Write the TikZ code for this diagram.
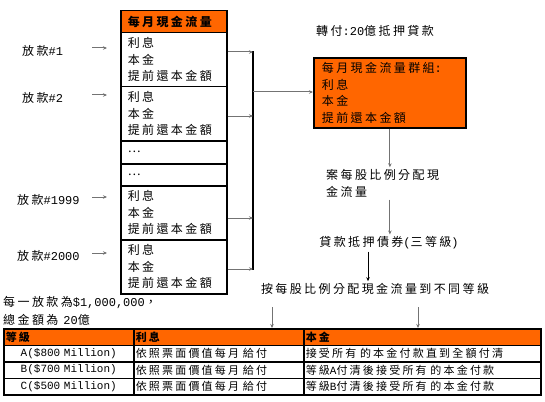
\documentclass[tikz,border=0pt]{standalone}
\usepackage{fontspec}
\setmainfont{Noto Sans CJK TC}[LetterSpace=20]
\newfontfamily\latnfont{Liberation Mono}
\newcommand{\ltn}[1]{{\latnfont #1}}
\usetikzlibrary{calc,positioning,arrows.meta}
\definecolor{cforange}{HTML}{FF6600}
\tikzstyle{stack}     = [draw=black, line width=1.5pt, anchor=north west, minimum width=106pt, text width=92pt, inner xsep=7pt, inner ysep=1pt, align=left, font=\fontsize{12}{16.5}\selectfont]
\tikzstyle{stackhead} = [stack, fill=cforange, minimum height=22pt, font=\fontsize{12}{16.5}\selectfont\bfseries]
\tikzstyle{loan}      = [anchor=west, inner sep=0pt, font=\fontsize{12}{16.5}\selectfont]
\tikzstyle{note}      = [inner sep=2pt, align=left, font=\fontsize{12}{17}\selectfont]
\tikzstyle{cell}      = [draw=black, line width=1.5pt, anchor=north west, minimum height=16.5pt, inner xsep=2pt, inner ysep=0pt, align=left, font=\fontsize{11}{13}\selectfont]
\tikzstyle{hcell}     = [cell, fill=cforange, font=\fontsize{11}{13}\selectfont\bfseries]
\tikzstyle{garr}      = [draw=black!55, line width=1pt, -{Stealth[length=4pt,width=3.5pt]}]
\tikzstyle{karr}      = [draw=black, line width=1pt, -{Stealth[length=4pt,width=3.5pt]}]
\tikzstyle{bus}       = [draw=black, line width=1.6pt]

\begin{document}
\begin{tikzpicture}[x=1pt,y=-1pt]
    \useasboundingbox (0,0) rectangle (545,401);

    % monthly cash flow of each loan
    \node[stackhead] (head) at (120,10) {每月現金流量};
    \node[stack, minimum height=54pt] (b1) at (120,32) {利息\\本金\\提前還本金額};
    \node[stack, minimum height=54pt] (b2) at (120,86) {利息\\本金\\提前還本金額};
    \node[stack, minimum height=23pt] (d1) at (120,140) {…};
    \node[stack, minimum height=22pt] (d2) at (120,163) {…};
    \node[stack, minimum height=54pt] (b3) at (120,185) {利息\\本金\\提前還本金額};
    \node[stack, minimum height=54pt] (b4) at (120,239) {利息\\本金\\提前還本金額};

    % loans
    \node[loan] (l1) at (22,51) {放款\ltn{\#1}};
    \node[loan] (l2) at (22,98) {放款\ltn{\#2}};
    \node[loan] (l3) at (17,200) {放款\ltn{\#1999}};
    \node[loan] (l4) at (17,256) {放款\ltn{\#2000}};
    \coordinate (s1) at (92,48);
    \coordinate (s2) at (92,95);
    \coordinate (s3) at (92,197);
    \coordinate (s4) at (92,253);
    \draw[garr] (s1) -- ++(15,0);
    \draw[garr] (s2) -- ++(15,0);
    \draw[garr] (s3) -- ++(15,0);
    \draw[garr] (s4) -- ++(15,0);

    % pooling
    \coordinate (p1) at (253,52);
    \coordinate (p2) at (253,116);
    \coordinate (p3) at (253,218);
    \coordinate (p4) at (253,269);
    \coordinate (pm) at (253,92);
    \draw[bus] ($(p1)+(0,-0.8)$) -- ($(p4)+(0,0.8)$);
    \draw[garr] (b1.east |- p1) -- (p1);
    \draw[garr] (b2.east |- p2) -- (p2);
    \draw[garr] (b3.east |- p3) -- (p3);
    \draw[garr] (b4.east |- p4) -- (p4);

    \node[note, anchor=west] (pass) at (314,31) {轉付\ltn{:20}億抵押貸款};
    \node[draw=black, line width=1.8pt, fill=cforange, anchor=north west, minimum width=152pt, minimum height=70pt,
          text width=136pt, inner xsep=8pt, inner ysep=1pt, align=left, font=\fontsize{12}{16.7}\selectfont]
          (grp) at (313,57) {每月現金流量群組\ltn{:}\\利息\\本金\\提前還本金額};
    \draw[garr] (pm) -- (grp.west |- pm);

    % allocation
    \node[note, anchor=west] (alloc) at (324,183.5) {案每股比例分配現\\金流量};
    \node[note] (bond) at (389,243) {貸款抵押債券\ltn{(}三等級\ltn{)}};
    \node[note] (dist) at (375,289) {按每股比例分配現金流量到不同等級};
    \draw[garr] (grp.south) -- (grp.south |- alloc.north);
    \draw[garr] (alloc.south -| grp.south) -- (bond.north -| grp.south);
    \coordinate (kx) at (368,0);
    \draw[karr] (bond.south -| kx) -- (dist.north -| kx);

    \node[note, anchor=north west, align=left, inner sep=0pt, font=\fontsize{12}{18}\selectfont] (total) at (3,296)
          {每一放款為\ltn{\$1,000,000}，\\總金額為 \ltn{20}億};

    % tranches
    \node[hcell, text width=126pt] (h1) at (3,328) {等級};
    \node[hcell, text width=166pt] (h2) at (133,328) {利息};
    \node[hcell, text width=233pt] (h3) at (303,328) {本金};
    \node[cell, text width=126pt, align=center] (a1) at (3,344.5) {\ltn{A(\$800 Million)}};
    \node[cell, text width=166pt] (a2) at (133,344.5) {依照票面價值每月 給付};
    \node[cell, text width=233pt] (a3) at (303,344.5) {接受所有 的本金付款直到全額付清};
    \node[cell, text width=126pt, align=center] (b1t) at (3,361) {\ltn{B(\$700 Million)}};
    \node[cell, text width=166pt] (b2t) at (133,361) {依照票面價值每月 給付};
    \node[cell, text width=233pt] (b3t) at (303,361) {等級\ltn{A}付清後接受所有 的本金付款};
    \node[cell, text width=126pt, align=center] (c1) at (3,377.5) {\ltn{C(\$500 Million)}};
    \node[cell, text width=166pt] (c2) at (133,377.5) {依照票面價值每月 給付};
    \node[cell, text width=233pt] (c3) at (303,377.5) {等級\ltn{B}付清後接受所有 的本金付款};

    \coordinate (t1) at (272,307);
    \coordinate (t2) at (418,307);
    \draw[garr] (t1) -- (h2.north -| t1);
    \draw[garr] (t2) -- (h3.north -| t2);
\end{tikzpicture}
\end{document}
